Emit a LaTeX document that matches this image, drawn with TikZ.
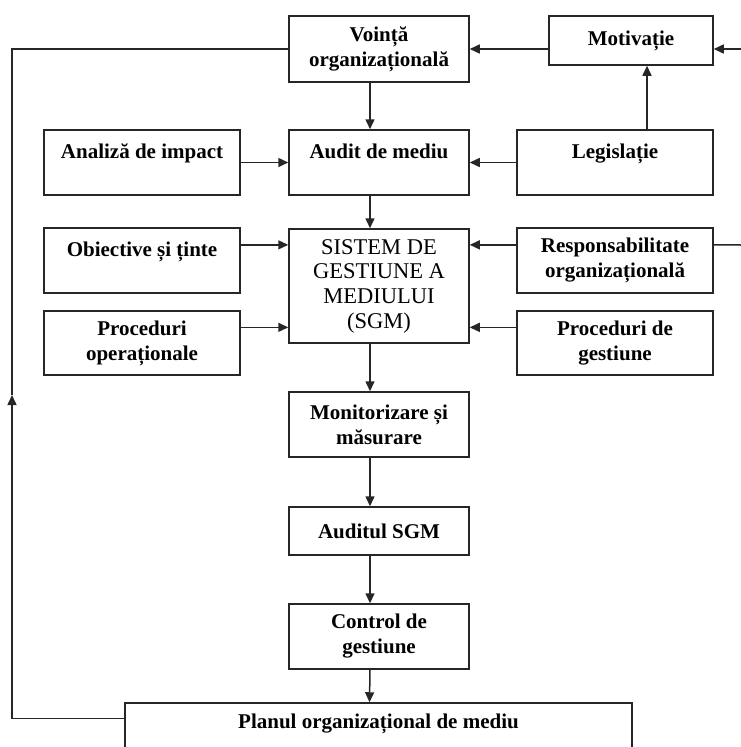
\documentclass[tikz,border=0pt]{standalone}
\usepackage{fontspec}
\setmainfont{Liberation Serif}
\usetikzlibrary{arrows.meta}
\begin{document}
\begin{tikzpicture}[x=1pt, y=-1pt,
                    every node/.style={draw=black!85, line width=1.5pt, align=center, inner sep=0pt,
                                       font=\bfseries\fontsize{21}{25}\selectfont},
                    mid/.style={minimum width=180pt, minimum height=65pt},
                    side/.style={minimum width=196pt, minimum height=65pt},
                    topline/.style={text height=14pt, text depth=22pt},
                    link/.style={draw=black!85, line width=1.5pt, -{Triangle[length=10pt, width=9pt]}}
                    ]
                    \clip (0,0) rectangle (741,747);
                    \node[mid, minimum height=66pt] (vointa) at (379,49) {Voință\\organizațională};
                    \node[minimum width=164pt, minimum height=49pt] (motiv) at (631,40.5) {Motivație};
                    \node[side, topline] (analiza) at (142,162.5) {Analiză de impact};
                    \node[mid, topline] (audit) at (379,162.5) {Audit de mediu};
                    \node[side, topline] (legis) at (615,162.5) {Legislație};
                    \node[side, topline] (obiect) at (142,260.5) {Obiective și ținte};
                    \node[side, minimum height=64pt] (procop) at (142,343) {Proceduri\\operaționale};
                    \node[mid, minimum height=114pt, font=\fontsize{22.5}{24.7}\selectfont] (sgm) at (379,286)
                        {SISTEM DE\\GESTIUNE A\\MEDIULUI\\(SGM)};
                    \node[side] (respons) at (615,260.5) {Responsabilitate\\organizațională};
                    \node[side, minimum height=64pt] (procgest) at (615,343) {Proceduri de\\gestiune};
                    \node[mid] (monit) at (379,424.5) {Monitorizare și\\măsurare};
                    \node[mid, minimum height=48pt] (auditsgm) at (379,531) {Auditul SGM};
                    \node[mid] (control) at (379,636.5) {Control de\\gestiune};
                    \node[topline, minimum width=507pt, minimum height=58pt] (plan) at (378.5,732)
                        {Planul organizațional de mediu};

                    \coordinate (rin) at (741,49);
                    \coordinate (rout) at (741,245);
                    \coordinate (la) at (12,395);

                    \foreach \i/\j in {vointa/audit,audit/sgm,sgm/monit,monit/auditsgm,auditsgm/control,control/plan}{
                        \draw[link] ([xshift=-9pt]\i.south) -- ([xshift=-9pt]\j.north);
                    }
                    \foreach \i/\a/\j in {analiza/0/audit,obiect/9/sgm,procop/9/sgm}{
                        \draw[link] (\i.\a) -- (\i.\a -| \j.west);
                    }
                    \foreach \i/\a/\j in {legis/180/audit,respons/171/sgm,procgest/171/sgm}{
                        \draw[link] (\i.\a) -- (\i.\a -| \j.east);
                    }
                    \draw[link] (motiv.west |- vointa.east) -- (vointa.east);
                    \draw[link] (rin) -- (rin -| motiv.east);
                    \draw[link] ([xshift=32pt]legis.north) -- ([xshift=16pt]motiv.south);
                    \draw[link, -] (respons.171 -| respons.east) -- (rout);
                    \draw[link] (plan.177) -| (la);
                    \draw[link, -] (la) |- (vointa.west);
                \end{tikzpicture}
\end{document}
